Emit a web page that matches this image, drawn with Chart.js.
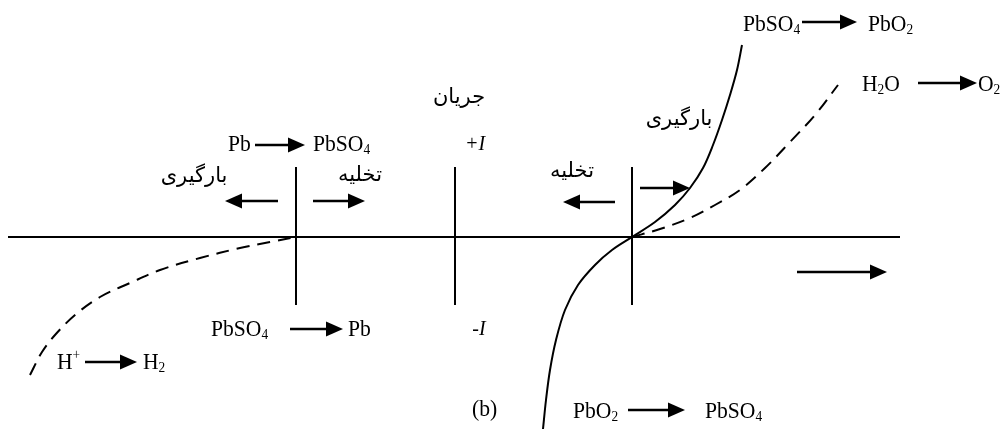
<!DOCTYPE html>
<html>
<head>
<meta charset="utf-8">
<script src="https://cdn.jsdelivr.net/npm/chart.js@4.4.0/dist/chart.umd.min.js"></script>
<style>
  html, body { margin: 0; padding: 0; background: #fff; }
  #wrap { width: 1003px; height: 429px; }
</style>
</head>
<body>
<div id="wrap"><canvas id="diagram"></canvas></div>
<script>
// Potential runs along x, current along y (0 = the horizontal axis)
const xRange = [0, 1003];
const yRange = [-192, 237];

const axisLine = [8, 900];
const markerX = [296, 455, 632];
const markerSpan = [-68, 70];

// PbO2 electrode curve (solid)
const pbo2X = [543, 546, 550, 556, 565, 578, 595, 612, 632, 655, 675, 690, 703, 713, 722, 730, 737, 742];
const pbo2Y = [-192, -163, -133, -103, -73, -48, -28, -13, 0, 15, 32, 49, 69, 92, 117, 142, 167, 192];

// oxygen evolution (dashed)
const oxyX = [632, 660, 690, 715, 740, 765, 790, 815, 838];
const oxyY = [0, 8, 19, 32, 47, 69, 95, 122, 152];

// hydrogen evolution (dashed)
const hydX = [30, 42, 55, 75, 100, 130, 160, 200, 240, 270, 296];
const hydY = [-138, -115, -98, -78, -60, -46, -33, -21, -11, -5, 0];

// reaction arrows: start x, end x (head), y
const arrowFrom = [255, 278, 313, 615, 640, 802, 918, 290, 85, 628, 797];
const arrowTo   = [305, 225, 365, 563, 690, 857, 977, 343, 137, 685, 887];
const arrowY    = [92, 36, 36, 35, 49, 215, 154, -92, -125, -173, -35];

// chemistry labels ("_" = subscript, "^" = superscript), left-aligned
const chemText = ["Pb", "PbSO_4", "PbSO_4", "PbO_2", "H_2O", "O_2", "PbSO_4", "Pb", "H^+", "H_2", "PbO_2", "PbSO_4", "(b)"];
const chemX    = [228, 313, 743, 868, 862, 978, 211, 348, 57, 143, 573, 705, 472];
const chemY    = [92, 92, 212, 212, 152, 152, -93, -93, -126, -126, -175, -175, -173];

// Persian labels, centred
const faText = ["بارگیری", "تخلیه", "جریان", "تخلیه", "بارگیری"];
const faX    = [194, 360, 459, 572, 679];
const faY    = [60, 61, 139, 65, 117];

// current labels
const curText = ["+I", "-I"];
const curX = [475, 479];
const curY = [92, -93];

function pts(xs, ys) {
  return xs.map((x, i) => ({ x: x, y: ys[i] }));
}

const datasets = [];
datasets.push({ data: pts(axisLine, [0, 0]), borderWidth: 2 });
markerX.forEach(x => {
  datasets.push({ data: pts([x, x], markerSpan), borderWidth: 2 });
});
datasets.push({ data: pts(pbo2X, pbo2Y), borderWidth: 2, tension: 0.35 });
datasets.push({ data: pts(oxyX, oxyY), borderWidth: 2, tension: 0.35, borderDash: [13, 8] });
datasets.push({ data: pts(hydX, hydY), borderWidth: 2, tension: 0.35, borderDash: [13, 8] });
datasets.forEach(d => {
  d.showLine = true;
  d.pointRadius = 0;
  d.borderColor = "#000";
  d.fill = false;
});

function drawChem(ctx, str, size) {
  let x = 0;
  for (let i = 0; i < str.length; i++) {
    let ch = str[i];
    let dy = 0;
    let fs = size;
    if (ch === "_" || ch === "^") {
      dy = ch === "_" ? size * 0.22 : -size * 0.32;
      fs = size * 0.62;
      ch = str[++i];
    }
    ctx.font = fs + "px 'Liberation Serif'";
    ctx.fillText(ch, x, dy);
    x += ctx.measureText(ch).width;
  }
}

const annotations = {
  id: "annotations",
  afterDatasetsDraw(chart) {
    const ctx = chart.ctx;
    const sx = chart.scales.x;
    const sy = chart.scales.y;
    ctx.save();
    ctx.fillStyle = "#000";
    ctx.strokeStyle = "#000";

    // arrows
    arrowFrom.forEach((x1, i) => {
      const a = sx.getPixelForValue(x1);
      const b = sx.getPixelForValue(arrowTo[i]);
      const y = sy.getPixelForValue(arrowY[i]);
      const dir = b > a ? 1 : -1;
      const head = 17;
      ctx.lineWidth = 2.5;
      ctx.beginPath();
      ctx.moveTo(a, y);
      ctx.lineTo(b - dir * head, y);
      ctx.stroke();
      ctx.beginPath();
      ctx.moveTo(b, y);
      ctx.lineTo(b - dir * head, y - 7.5);
      ctx.lineTo(b - dir * head, y + 7.5);
      ctx.closePath();
      ctx.fill();
    });

    // chemistry labels
    ctx.textBaseline = "middle";
    ctx.textAlign = "left";
    chemText.forEach((t, i) => {
      ctx.save();
      ctx.translate(sx.getPixelForValue(chemX[i]), sy.getPixelForValue(chemY[i]));
      ctx.scale(0.9, 1);
      drawChem(ctx, t, 24);
      ctx.restore();
    });

    // Persian labels
    ctx.textAlign = "center";
    ctx.font = "21px 'DejaVu Sans'";
    faText.forEach((t, i) => {
      ctx.fillText(t, sx.getPixelForValue(faX[i]), sy.getPixelForValue(faY[i]));
    });

    // current labels
    ctx.font = "italic 20px 'Liberation Serif'";
    curText.forEach((t, i) => {
      ctx.fillText(t, sx.getPixelForValue(curX[i]), sy.getPixelForValue(curY[i]));
    });
    ctx.restore();
  }
};

new Chart(document.getElementById("diagram"), {
  type: "scatter",
  data: { datasets: datasets },
  options: {
    responsive: true,
    maintainAspectRatio: false,
    animation: false,
    layout: { padding: 0 },
    plugins: { legend: { display: false }, tooltip: { enabled: false } },
    scales: {
      x: { type: "linear", min: xRange[0], max: xRange[1], display: false },
      y: { type: "linear", min: yRange[0], max: yRange[1], display: false }
    }
  },
  plugins: [annotations]
});
</script>
</body>
</html>
